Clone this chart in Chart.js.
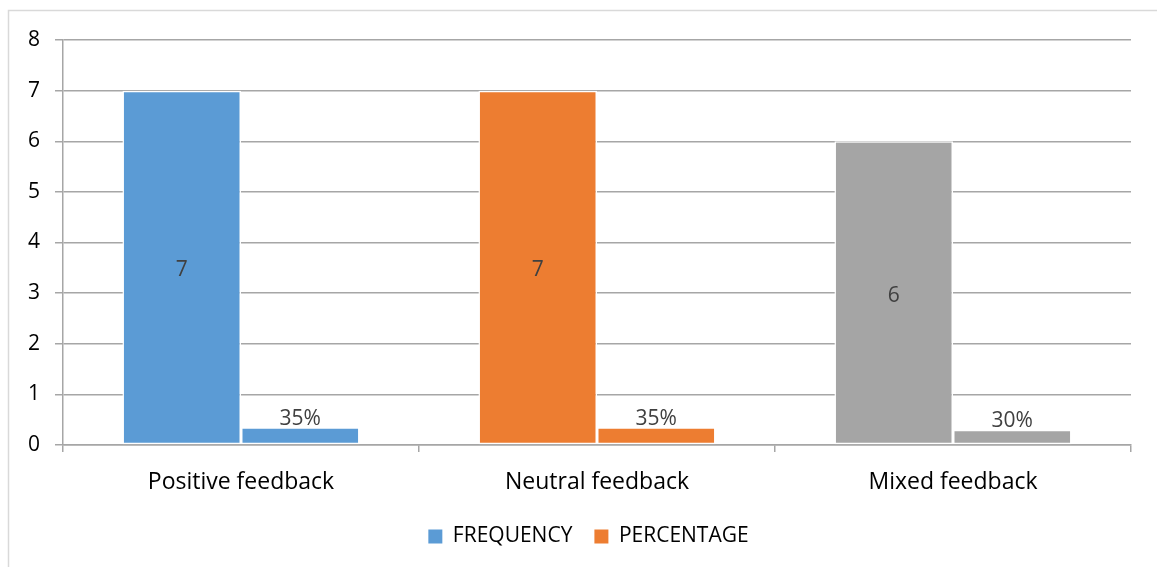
<!DOCTYPE html>
<html lang="en">
<head>
<meta charset="UTF-8">
<title>Feedback chart</title>
<script src="https://cdn.jsdelivr.net/npm/chart.js"></script>
<style>
  html, body { margin: 0; padding: 0; background: #fff; overflow: hidden; }
  #wrap { width: 1157px; height: 567px; }
</style>
</head>
<body>
<div id="wrap"><canvas id="chart" width="1157" height="567"></canvas></div>
<script>
// data
const categories = ['Positive feedback', 'Neutral feedback', 'Mixed feedback'];
const frequency = [7, 7, 6];
const percentage = [0.35, 0.35, 0.30];
const pointColors = ['#5B9BD5', '#ED7D31', '#A5A5A5'];
const legendColors = ['#5B9BD5', '#ED7D31'];
const yTicks = [0, 1, 2, 3, 4, 5, 6, 7, 8];

const FONT = "'Open Sans', 'Noto Sans', sans-serif";

// light frame round the chart (the right and bottom run off the picture)
const framePlugin = {
  id: 'frame',
  afterLayout(chart) {
    // excel centres the legend a bit further right than chart.js does
    const lg = chart.legend;
    if (lg) { lg.left += 23; lg.right += 23; }
  },
  beforeDraw(chart) {
    const c = chart.ctx;
    c.save();
    c.strokeStyle = '#D9D9D9';
    c.lineWidth = 1.5;
    c.beginPath();
    c.moveTo(8.5, 600);
    c.lineTo(8.5, 10.5);
    c.lineTo(1200, 10.5);
    c.stroke();
    c.restore();
  }
};

// value labels: inside for frequency, above for percentage
const labelPlugin = {
  id: 'barLabels',
  afterDatasetsDraw(chart) {
    const c = chart.ctx;
    c.save();
    c.font = '21px ' + FONT;
    c.fillStyle = '#404040';
    c.textAlign = 'center';
    chart.data.datasets.forEach((ds, di) => {
      const meta = chart.getDatasetMeta(di);
      meta.data.forEach((bar, i) => {
        const v = ds.data[i];
        if (di === 0) {
          c.textBaseline = 'middle';
          c.fillText(String(v), bar.x, (bar.y + bar.base) / 2 + 3);
        } else {
          c.textBaseline = 'bottom';
          c.fillText(Math.round(v * 100) + '%', bar.x, bar.y + 2);
        }
      });
    });
    c.restore();
  }
};

new Chart(document.getElementById('chart'), {
  type: 'bar',
  data: {
    labels: categories,
    datasets: [{
      label: 'FREQUENCY',
      data: frequency,
      backgroundColor: pointColors,
      borderColor: '#FFFFFF',
      borderWidth: 1.5,
      borderSkipped: false
    }, {
      label: 'PERCENTAGE',
      data: percentage,
      backgroundColor: pointColors,
      borderColor: '#FFFFFF',
      borderWidth: 1.5,
      borderSkipped: false
    }]
  },
  options: {
    responsive: false,
    animation: false,
    categoryPercentage: 0.666,
    barPercentage: 1.0,
    layout: { padding: { top: 40, right: 26, bottom: 10, left: 0 } },
    plugins: {
      tooltip: { enabled: false },
      legend: {
        position: 'bottom',
        labels: {
          font: { family: FONT, size: 21 },
          color: '#595959',
          boxWidth: 14,
          boxHeight: 14,
          padding: 22,
          generateLabels: (chart) => chart.data.datasets.map((ds, i) => ({
            text: ds.label,
            fillStyle: legendColors[i],
            strokeStyle: legendColors[i],
            lineWidth: 0,
            datasetIndex: i
          }))
        }
      }
    },
    scales: {
      x: {
        grid: {
          offset: true,
          drawOnChartArea: false,
          drawTicks: true,
          tickLength: 7,
          color: '#A6A6A6',
          lineWidth: 1.5
        },
        border: { display: true, color: '#A6A6A6', width: 1.5 },
        ticks: {
          font: { family: FONT, size: 23 },
          color: '#000000',
          padding: 17,
          maxRotation: 0
        },
        afterFit(scale) { scale.height = 59; }
      },
      y: {
        min: 0,
        max: 8,
        afterBuildTicks(scale) { scale.ticks = yTicks.map(v => ({ value: v })); },
        grid: {
          color: '#A6A6A6',
          lineWidth: 1.5,
          tickLength: 8
        },
        border: { display: true, color: '#A6A6A6', width: 1.5 },
        ticks: {
          font: { family: FONT, size: 21 },
          color: '#000000',
          padding: 15
        },
        afterFit(scale) { scale.width = 63; }
      }
    }
  },
  plugins: [framePlugin, labelPlugin]
});
</script>
</body>
</html>
